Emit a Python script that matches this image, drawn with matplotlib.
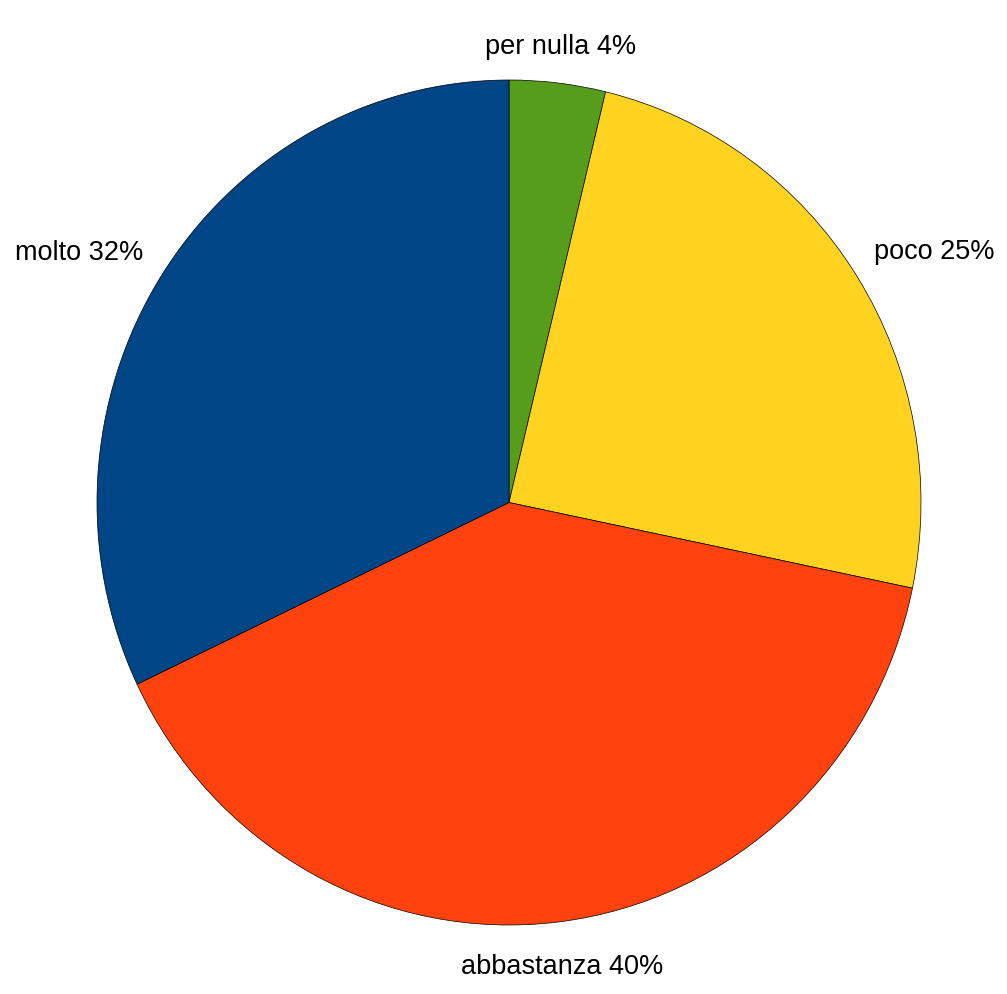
import matplotlib
matplotlib.use("Agg")
import matplotlib.pyplot as plt
import numpy as np

labels = ["per nulla", "poco", "abbastanza", "molto"]
values = [3.77, 24.5, 39.7, 32.1]
pct_labels = ["4%", "25%", "40%", "32%"]
colors = ["#579d1c", "#ffd320", "#ff420e", "#004586"]

plt.rcParams['font.family'] = ['Liberation Sans', 'DejaVu Sans']

fig = plt.figure(figsize=(10.07, 9.94), dpi=100)
ax = fig.add_axes([0, 0, 1, 1])
wedges, _ = ax.pie(values, colors=colors, startangle=90, counterclock=False,
                   radius=1.0, center=(0, 0),
                   wedgeprops=dict(edgecolor="black", linewidth=0.5))
RX, RY = 412.0, 422.5
CX, CY = 509.0, 502.5
ax.set_xlim(-CX / RX, (1007 - CX) / RX)
ax.set_ylim(-(994 - CY) / RY, CY / RY)
ax.set_aspect('auto')
ax.axis('off')

for w, lab, p in zip(wedges, labels, pct_labels):
    mid = np.deg2rad((w.theta1 + w.theta2) / 2)
    c, s = np.cos(mid), np.sin(mid)
    if abs(c) < 0.3:
        ha = 'center'
        if s > 0:
            d, va = 1.055, 'bottom'
        else:
            d, va = 1.077, 'top'
    else:
        d = 1.05
        ha = 'left' if c > 0 else 'right'
        va = 'bottom'
    ax.text(d * c, d * s, f"{lab} {p}", ha=ha, va=va, fontsize=19.5, color="black")

fig.savefig("out.png", dpi=100, facecolor="white")
